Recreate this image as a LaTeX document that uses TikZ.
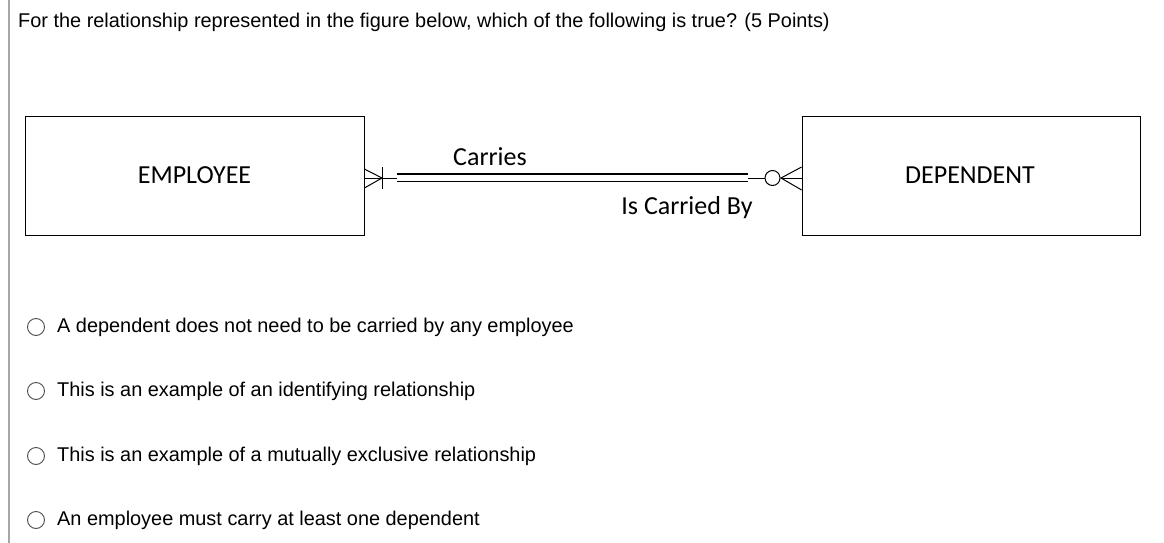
\documentclass[tikz,border=0pt]{standalone}
\usepackage{fontspec}
\setmainfont{Liberation Sans}
\newfontfamily\calfont{Carlito}
\begin{document}
\begin{tikzpicture}[x=1pt,y=-1pt,
  ent/.style={draw,line width=0.8pt,inner sep=0pt},
  lbl/.style={font=\calfont\fontsize{26}{30}\selectfont},
  opt/.style={anchor=west,font=\fontsize{19.9}{23}\selectfont,inner sep=0pt},
  radio/.style={draw=black!70,circle,minimum size=17pt,inner sep=0pt,line width=0.9pt}]
\useasboundingbox (0,0) rectangle (1164,543);
\draw[black!35,line width=1.2pt] (9,0) -- (9,543);
\node[opt] (q) at (18,22) {For the relationship represented in the figure below, which of the following is true? (5 Points)};
\node[ent,minimum width=339pt,minimum height=119pt] (emp) at (194.5,175.5) {};
\node[lbl] at (194.5,175) {EMPLOYEE};
\node[ent,minimum width=338pt,minimum height=119pt] (dep) at (971,175.5) {};
\node[lbl] at (970,175) {DEPENDENT};
\coordinate (a) at (emp.east |- 0,178);
\coordinate (b) at (dep.west |- 0,178);
\draw[line width=1pt] (a) -- (397,178);
\draw[line width=1pt] (a|-0,169) -- (382,178) -- (a|-0,188);
\draw[line width=1pt] (382,167) -- (382,189);
\draw[line width=1.6pt] (397,174) -- (748,174);
\draw[line width=1.6pt] (397,181.5) -- (748,181.5);
\draw[line width=1pt] (748,178) -- (765,178);
\node[draw,circle,line width=1pt,minimum size=15pt,inner sep=0pt] (c) at (772.5,178) {};
\draw[line width=1pt] (c.east) -- (b);
\draw[line width=1pt] (b|-0,167) -- (781,178) -- (b|-0,190);
\node[lbl] at (490,157) {Carries};
\node[lbl] at (687,208) {Is Carried By};
\foreach \y/\t [count=\i] in {327/A dependent does not need to be carried by any employee,
  391/This is an example of an identifying relationship,
  456/This is an example of a mutually exclusive relationship,
  520/An employee must carry at least one dependent}{
  \node[radio] (r\i) at (36,\y) {};
  \node[opt] (o\i) at (57,\y) {\t};
}
\end{tikzpicture}
\end{document}
